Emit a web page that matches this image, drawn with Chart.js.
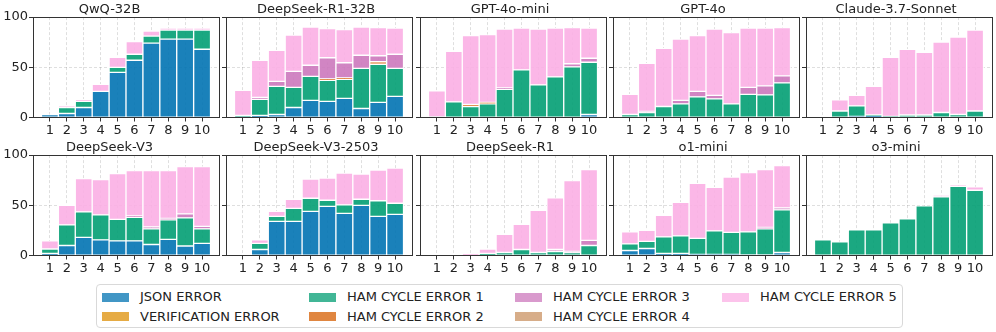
<!DOCTYPE html>
<html><head><meta charset="utf-8">
<script src="https://cdn.jsdelivr.net/npm/chart.js@4.4.0/dist/chart.umd.min.js"></script>
<style>
html,body{margin:0;padding:0;background:#fff;width:996px;height:332px;overflow:hidden;font-family:"DejaVu Sans",sans-serif;}
#wrap{position:relative;width:996px;height:332px;}
canvas{position:absolute;}
#legend{position:absolute;left:96px;top:284px;width:807px;height:44px;border:1px solid #d9d9d9;border-radius:4px;box-sizing:border-box;}
.item{position:absolute;font-size:13px;color:#222;white-space:nowrap;line-height:16px;}
.sw{position:absolute;width:27px;height:9px;}
</style></head><body><div id="wrap"><div id="legend"></div></div>
<script>
// ---------- data ----------
const models = ["QwQ-32B","DeepSeek-R1-32B","GPT-4o-mini","GPT-4o","Claude-3.7-Sonnet",
                "DeepSeek-V3","DeepSeek-V3-2503","DeepSeek-R1","o1-mini","o3-mini"];
const categories = ["1","2","3","4","5","6","7","8","9","10"];
const yTickValues = [0, 50, 100];
const seriesNames = ["JSON ERROR","VERIFICATION ERROR","HAM CYCLE ERROR 1","HAM CYCLE ERROR 2",
                     "HAM CYCLE ERROR 3","HAM CYCLE ERROR 4","HAM CYCLE ERROR 5"];
// one row per model (same order as models), one value per category
const jsonError = [
  [3,4,10,26,45,57,74,78,78,68],
  [0.5,2,3,10,17,16,19,9,15,21],
  [0,0,0,0,0,0,0,0,0,3],
  [0,0,0,0,0,0,0,0,0,0],
  [0,0,1,1.5,0,0,0,0,0,0],
  [2,10,18,15.5,14.5,14.5,11,16,9.5,12],
  [0,6,34,34,44,49,42,50,39,41],
  [0,0,0,0,0,0,0,0,0,0],
  [5,7,2,2,1,1,1,0.5,0.5,3],
  [0,0,0,0,0,0,0,0,0,0]
];
const verificationError = [
  [0,0,0,0,0,0,0,0,0,0],[0,0,0,0,0,0,0,0,0,0],[0,0,0,0,0,0,0,0,0,0],[0,0,0,0,0,0,0,0,0,0],
  [0,0,0,0,0,0,0,0,0,0],[0,0,0,0,0,0,0,0,0,0],[0,0,0,0,0,0,0,0,0,0],[0,0,0,0,0,0,0,0,0,0],
  [0,0,0,0,0,0,0,0,0,0],[0,0,0,0,0,0,0,0,0,0]
];
const hamError1 = [
  [0,6,6,0,5,6,7,9,9,19],
  [1.5,16,28,20,24,21,19,40,38,28],
  [0.5,15.5,11,13.5,28,47.5,32.5,40.5,50.5,52],
  [3,5,11,13.5,20.5,18.5,13.5,23,22.5,34.5],
  [0,6.5,10.5,1,1,2.5,2.5,5,3,6.5],
  [4.5,20.5,25.5,25,21.5,23.5,15.5,19.5,28,14.5],
  [0,6,5,13,13,6,8.5,6,15.5,11],
  [0,0,0,2,3,6,3,4,3,10],
  [6.5,7,16.5,17.5,16,23.5,22,23,26,42.5],
  [15.5,13.5,25.5,25.5,32.5,36.5,49.5,58.5,69,65]
];
const hamError2 = [
  [0,0,0,0,0,0,0,0,0,0],
  [0,0,0,0,0,1.5,1.5,0,2.5,0],
  [0,0,2,1.5,0,0,0,0,0,0],
  [0,0,0,0,0,0,0,0,0,0],[0,0,0,0,0,0,0,0,0,0],[0,0,0,0,0,0,0,0,0,0],[0,0,0,0,0,0,0,0,0,0],
  [0,0,0,0,0,0,0,0,0,0],[0,0,0,0,0,0,0,0,0,0],[0,0,0,0,0,0,0,0,0,0]
];
const hamError3 = [
  [0,0,0,0,0,0,0,0,0,0],
  [0,2,5,16,11,21,15,13,6,14],
  [0,0,0,0,1.5,0,0,0,3,4],
  [0,1,0,3.5,5.5,3.5,0,7,9,7],
  [0,0,0,0,0,0,0,0,0,0],
  [0,0,0,0,0,1.5,2,1.5,4,2.5],
  [0,0,0,0,0,0,0,0,0,0],
  [0,0,0,0,0,0,0,2,1,5],
  [0,0,0,0,0,0,0,0,1.5,2],
  [0,0,0,0,0,0,0,0,0,0]
];
const hamError4 = [
  [0,0,0,0,0,0,0,0,0,0],[0,0,0,0,0,0,0,0,0,0],[0,0,0,0,0,0,0,0,0,0],[0,0,0,0,0,0,0,0,0,0],
  [0,0,0,0,0,0,0,0,0,0],[0,0,0,0,0,0,0,0,0,0],[0,0,0,0,0,0,0,0,0,0],[0,0,0,0,0,0,0,0,0,0],
  [0,0,0,0,0,0,0,0,0,0],[0,0,0,0,0,0,0,0,0,0]
];
const hamError5 = [
  [0,1.5,2,7,10,12.5,5,2,2,2],
  [25,37,31,36,38,29,33,28,28,26],
  [26,50.5,68.5,67.5,58.5,41.5,55.5,48.5,36,30],
  [20,48,58,61,55.5,66,71,59,57.5,48],
  [0,11,10.5,28.5,59,65.5,62.5,70,77,80.5],
  [8,19.5,33,35,45.5,45,56,47.5,47,59.5],
  [0,3.5,5,9,19,22,31.5,25,30.5,35],
  [0,0,1.5,4.5,18,25,42,51.5,70.5,70.5],
  [12,11,21.5,33.5,55,43.5,55,59,57.5,42],
  [0,0,0,0,0,0,0,1.5,1.5,3.5]
];

// ---------- styling ----------
const seriesData = [jsonError, verificationError, hamError1, hamError2, hamError3, hamError4, hamError5];
const seriesRGB = [[1,115,178],[222,143,5],[2,158,115],[213,94,0],[204,120,188],[202,145,97],[251,175,228]];
const rgba = (c,a) => `rgba(${c[0]},${c[1]},${c[2]},${a})`;
const FONT = "'DejaVu Sans', sans-serif";
Chart.defaults.font.family = FONT;

const framePlugin = {
  id: 'frame',
  afterDatasetsDraw(chart) {
    const {ctx, chartArea: a} = chart;
    ctx.save();
    ctx.strokeStyle = '#333';
    ctx.lineWidth = 1;
    const l = Math.round(a.left - 0.5) + 0.5, t = Math.round(a.top - 0.5) + 0.5;
    const r = Math.round(a.right - 0.5) + 0.5, b = Math.round(a.bottom - 0.5) + 0.5;
    ctx.strokeRect(l, t, r - l, b - t);
    ctx.restore();
  }
};

const wrap = document.getElementById('wrap');
const panelLefts = [33, 226, 420, 613, 806];
const panelWidth = 186;
const rowTops = [0, 138];

models.forEach((name, m) => {
  const col = m % 5, row = Math.floor(m / 5);
  const yW = col === 0 ? 33 : 6;
  const canvas = document.createElement('canvas');
  canvas.width = panelWidth + 2 * yW;
  canvas.height = 137;
  canvas.style.left = (panelLefts[col] - yW) + 'px';
  canvas.style.top = rowTops[row] + 'px';
  wrap.appendChild(canvas);

  const datasets = seriesNames.map((s, k) => ({
    label: s,
    data: categories.map((c, i) => ({x: i + 1, y: seriesData[k][m][i]})),
    backgroundColor: rgba(seriesRGB[k], 0.9),
    borderColor: '#ffffff',
    borderWidth: 1,
    borderSkipped: false,
    barPercentage: 1,
    categoryPercentage: 1
  }));

  new Chart(canvas, {
    type: 'bar',
    data: {datasets},
    plugins: [framePlugin],
    options: {
      responsive: false,
      animation: false,
      devicePixelRatio: 1,
      events: [],
      layout: {padding: {left: 0, right: yW, top: 0, bottom: 0}},
      plugins: {
        legend: {display: false},
        tooltip: {enabled: false},
        title: {
          display: true, text: name, color: '#222',
          font: {family: FONT, size: 13, weight: 'normal'},
          padding: {top: 1.5, bottom: 0}
        }
      },
      scales: {
        x: {
          type: 'linear', stacked: true, min: 0, max: 11, offset: false,
          afterBuildTicks: (s) => { s.ticks = categories.map((c, i) => ({value: i + 1})); },
          afterFit: (s) => { s.height = 19.5; },
          ticks: {
            color: '#222', font: {family: FONT, size: 13}, padding: 1,
            maxRotation: 0, autoSkip: false,
            callback: (v) => categories[v - 1] ?? ''
          },
          grid: {offset: false, color: 'rgba(0,0,0,0.16)', lineWidth: 0.8, borderDash: [3, 2],
                 tickColor: '#333', tickLength: 4, tickWidth: 1, tickBorderDash: []},
          border: {display: true, color: '#333', width: 1, dash: [3, 2]}
        },
        y: {
          stacked: true, min: 0, max: 100,
          afterBuildTicks: (s) => { s.ticks = yTickValues.map(v => ({value: v})); },
          afterFit: (s) => { s.width = yW; },
          ticks: {
            display: col === 0, color: '#222', font: {family: FONT, size: 13}, padding: 1
          },
          grid: {color: 'rgba(0,0,0,0.16)', lineWidth: 0.8, borderDash: [3, 2],
                 tickColor: '#333', tickLength: 4, tickWidth: 1, tickBorderDash: []},
          border: {display: true, color: '#333', width: 1, dash: [3, 2]}
        }
      }
    }
  });
});

// ---------- legend ----------
const legend = document.getElementById('legend');
const colX = [5, 212, 418, 625];
seriesNames.forEach((s, k) => {
  const c = Math.floor(k / 2), r = k % 2;
  const top = r === 0 ? 4 : 23.5;
  const sw = document.createElement('div');
  sw.className = 'sw';
  sw.style.left = colX[c] + 'px';
  sw.style.top = (top + 3.5) + 'px';
  sw.style.background = rgba(seriesRGB[k], 0.75);
  legend.appendChild(sw);
  const t = document.createElement('div');
  t.className = 'item';
  t.style.left = (colX[c] + 38) + 'px';
  t.style.top = top + 'px';
  t.textContent = s;
  legend.appendChild(t);
});
</script>
</body></html>
